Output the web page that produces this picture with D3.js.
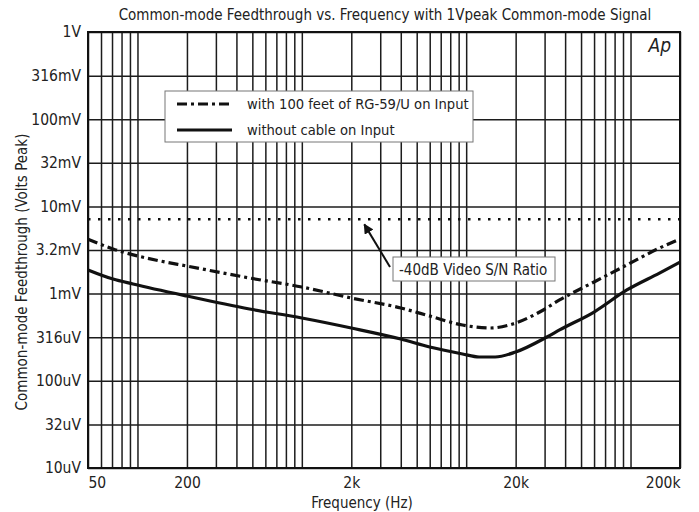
<!DOCTYPE html>
<html>
<head>
<meta charset="utf-8">
<script src="https://cdn.jsdelivr.net/npm/d3@7"></script>
<style>
  body { margin: 0; background: #fff; }
  text { font-family: "Liberation Sans Narrow", "DejaVu Sans Condensed", sans-serif; fill: #222; }
</style>
</head>
<body>
<div id="wrapper"></div>
<script>
// Data
const freqTicks = [50, 200, 2000, 20000, 200000]
const freqTickLabels = ["50", "200", "2k", "20k", "200k"]
const voltTicks = [1, 0.316, 0.1, 0.0316, 0.01, 0.00316, 0.001, 316e-6, 100e-6, 31.6e-6, 10e-6]
const voltTickLabels = ["1V", "316mV", "100mV", "32mV", "10mV", "3.2mV", "1mV", "316uV", "100uV", "32uV", "10uV"]

const cableFreq = [50, 71, 137, 200, 480, 1000, 2000, 4000, 6000, 9500, 14000, 19200, 28000, 37000, 60000, 95000, 150000, 200000]
const cableVolts = [4.2e-3, 3.25e-3, 2.37e-3, 2.07e-3, 1.51e-3, 1.19e-3, 0.89e-3, 0.684e-3, 0.553e-3, 0.436e-3, 0.403e-3, 0.448e-3, 0.615e-3, 0.845e-3, 1.36e-3, 2.13e-3, 3.33e-3, 4.23e-3]

const noCableFreq = [50, 71, 94, 200, 480, 1000, 2000, 4000, 6000, 9500, 12000, 15000, 20000, 31000, 37000, 60000, 95000, 150000, 200000]
const noCableVolts = [1.87e-3, 1.47e-3, 1.29e-3, 0.938e-3, 0.666e-3, 0.525e-3, 0.403e-3, 0.301e-3, 0.244e-3, 0.203e-3, 0.1875e-3, 0.1875e-3, 0.214e-3, 0.318e-3, 0.383e-3, 0.615e-3, 1.1e-3, 1.72e-3, 2.3e-3]

const snLimit = 7.1e-3
const snArrowFreq = 2400

const seriesNames = ["with 100 feet of RG-59/U on Input", "without cable on Input"]

function drawChart() {
    const dimensions = {
        width: 699,
        height: 512,
        margin: { top: 32, right: 19, bottom: 44, left: 88 },
    }
    dimensions.boundedWidth = dimensions.width - dimensions.margin.left - dimensions.margin.right
    dimensions.boundedHeight = dimensions.height - dimensions.margin.top - dimensions.margin.bottom

    const wrapper = d3.select("#wrapper")
        .append("svg")
        .attr("width", dimensions.width)
        .attr("height", dimensions.height)

    const bounds = wrapper.append("g")
        .attr("transform", `translate(${dimensions.margin.left},${dimensions.margin.top})`)

    // Scales
    const xScale = d3.scaleLog()
        .domain([50, 200000])
        .range([0, dimensions.boundedWidth])

    const yScale = d3.scaleLog()
        .domain([10e-6, 1])
        .range([dimensions.boundedHeight, 0])

    // Grid
    const xGrid = bounds.append("g")
        .attr("transform", `translate(0,${dimensions.boundedHeight})`)
        .call(d3.axisBottom(xScale).ticks(10).tickSize(-dimensions.boundedHeight).tickFormat(""))
    xGrid.select(".domain").remove()
    xGrid.selectAll("line").attr("stroke", "#1c1c1c").attr("stroke-width", 1.5)

    const yGrid = bounds.append("g")
        .call(d3.axisLeft(yScale).tickValues(voltTicks).tickSize(-dimensions.boundedWidth).tickFormat(""))
    yGrid.select(".domain").remove()
    yGrid.selectAll("line").attr("stroke", "#1c1c1c").attr("stroke-width", 1.5)

    // Frame
    bounds.append("rect")
        .attr("width", dimensions.boundedWidth)
        .attr("height", dimensions.boundedHeight)
        .attr("fill", "none")
        .attr("stroke", "#111")
        .attr("stroke-width", 2)

    // Axes labels
    const xAxis = bounds.append("g")
        .attr("transform", `translate(0,${dimensions.boundedHeight})`)
        .call(d3.axisBottom(xScale).tickValues(freqTicks).tickSize(0).tickPadding(9)
            .tickFormat((d, i) => freqTickLabels[i]))
    xAxis.select(".domain").remove()
    xAxis.selectAll("text")
        .style("font-size", "15.5px")
        .attr("fill", "#222")
        .attr("text-anchor", (d, i) => i === 0 ? "start" : i === freqTicks.length - 1 ? "end" : "middle")

    const yAxis = bounds.append("g")
        .call(d3.axisLeft(yScale).tickValues(voltTicks).tickSize(0).tickPadding(7)
            .tickFormat((d, i) => voltTickLabels[i]))
    yAxis.select(".domain").remove()
    yAxis.selectAll("text")
        .style("font-size", "15.5px")
        .attr("fill", "#222")

    // -40dB line
    bounds.append("line")
        .attr("x1", 0)
        .attr("x2", dimensions.boundedWidth)
        .attr("y1", yScale(snLimit))
        .attr("y2", yScale(snLimit))
        .attr("stroke", "#111")
        .attr("stroke-width", 2.5)
        .attr("stroke-dasharray", "2.5,7.5")

    // Curves
    const lineGen = d3.line()
        .x(d => xScale(d[0]))
        .y(d => yScale(d[1]))
        .curve(d3.curveMonotoneX)

    const cableData = cableFreq.map((f, i) => [f, cableVolts[i]])
    const noCableData = noCableFreq.map((f, i) => [f, noCableVolts[i]])

    bounds.append("path")
        .datum(cableData)
        .attr("d", lineGen)
        .attr("fill", "none")
        .attr("stroke", "#111")
        .attr("stroke-width", 3.2)
        .attr("stroke-dasharray", "10,4,3,4")

    bounds.append("path")
        .datum(noCableData)
        .attr("d", lineGen)
        .attr("fill", "none")
        .attr("stroke", "#111")
        .attr("stroke-width", 3.2)

    // Legend
    const legend = wrapper.append("g")
    legend.append("rect")
        .attr("x", 165).attr("y", 91)
        .attr("width", 308).attr("height", 51)
        .attr("fill", "#fff")
        .attr("stroke", "#777")
        .attr("stroke-width", 1)
    const legendDash = ["10,4,3,4", null]
    seriesNames.forEach((name, i) => {
        const y = 104 + i * 26
        legend.append("line")
            .attr("x1", 177).attr("x2", 232)
            .attr("y1", y).attr("y2", y)
            .attr("stroke", "#111")
            .attr("stroke-width", 3)
            .attr("stroke-dasharray", legendDash[i])
        legend.append("text")
            .attr("x", 247).attr("y", y + 5)
            .style("font-size", "14.6px")
            .text(name)
    })

    // Annotation
    const defs = wrapper.append("defs")
    defs.append("marker")
        .attr("id", "arrow")
        .attr("viewBox", "0 0 10 10")
        .attr("refX", 9).attr("refY", 5)
        .attr("markerWidth", 5).attr("markerHeight", 5)
        .attr("orient", "auto")
        .append("path")
        .attr("d", "M0,0 L10,5 L0,10 z")
        .attr("fill", "#111")

    const tipX = dimensions.margin.left + xScale(snArrowFreq)
    const tipY = dimensions.margin.top + yScale(snLimit) + 5
    wrapper.append("line")
        .attr("x1", 390).attr("y1", 267)
        .attr("x2", tipX).attr("y2", tipY)
        .attr("stroke", "#111")
        .attr("stroke-width", 2)
        .attr("marker-end", "url(#arrow)")

    wrapper.append("rect")
        .attr("x", 393).attr("y", 257)
        .attr("width", 162).attr("height", 24)
        .attr("fill", "#fff")
        .attr("stroke", "#777")
        .attr("stroke-width", 1)
    wrapper.append("text")
        .attr("x", 399).attr("y", 275)
        .style("font-size", "15px")
        .text("-40dB Video S/N Ratio")

    // Ap logo
    wrapper.append("text")
        .attr("x", 671).attr("y", 52)
        .attr("text-anchor", "end")
        .style("font-size", "19px")
        .style("font-style", "italic")
        .text("Ap")

    // Titles
    wrapper.append("text")
        .attr("x", 385).attr("y", 20)
        .attr("text-anchor", "middle")
        .style("font-size", "15px")
        .text("Common-mode Feedthrough vs. Frequency with 1Vpeak Common-mode Signal")

    wrapper.append("text")
        .attr("x", 362).attr("y", 508)
        .attr("text-anchor", "middle")
        .style("font-size", "15px")
        .text("Frequency (Hz)")

    wrapper.append("text")
        .attr("transform", "translate(27, 272) rotate(-90)")
        .attr("text-anchor", "middle")
        .style("font-size", "15px")
        .text("Common-mode Feedthrough (Volts Peak)")
}
drawChart()
</script>
</body>
</html>
